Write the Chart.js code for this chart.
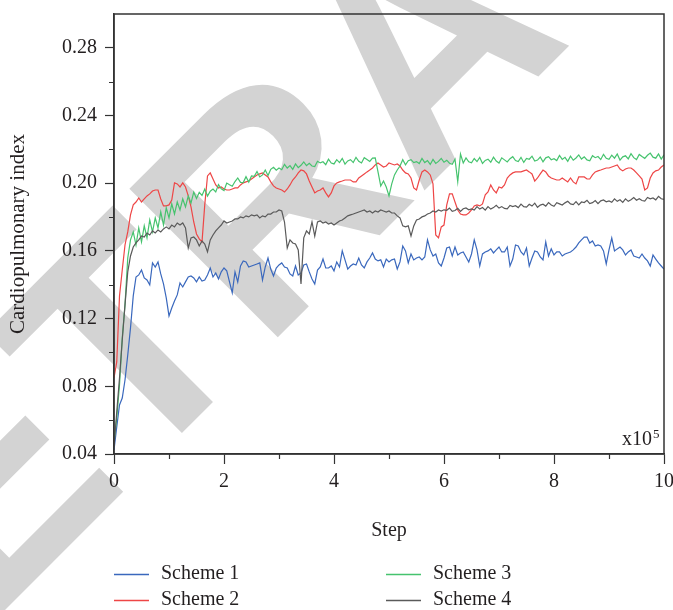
<!DOCTYPE html>
<html>
<head>
<meta charset="utf-8">
<script src="https://cdn.jsdelivr.net/npm/chart.js@4.4.1/dist/chart.umd.min.js"></script>
<style>
  html, body { margin: 0; padding: 0; background: #ffffff; }
  #wrap { width: 673px; height: 610px; }
</style>
</head>
<body>
<div id="wrap"><canvas id="c" width="673" height="610"></canvas></div>
<script>
// Cardiopulmonary index recorded every 0.05 x 10^5 steps (0 .. 10 x 10^5)
const scheme1 = [
  0.0424, 0.0560, 0.0690, 0.0731, 0.0837, 0.0985, 0.1145, 0.1334, 0.1446, 0.1458,
  0.1487, 0.1440, 0.1428, 0.1399, 0.1529, 0.1505, 0.1535, 0.1464, 0.1405, 0.1322,
  0.1216, 0.1263, 0.1304, 0.1340, 0.1411, 0.1387, 0.1417, 0.1446, 0.1452, 0.1440,
  0.1417, 0.1446, 0.1422, 0.1428, 0.1458, 0.1499, 0.1446, 0.1470, 0.1434, 0.1476,
  0.1499, 0.1482, 0.1417, 0.1352, 0.1476, 0.1417, 0.1511, 0.1541, 0.1535, 0.1505,
  0.1511, 0.1517, 0.1523, 0.1529, 0.1428, 0.1505, 0.1558, 0.1493, 0.1452, 0.1499,
  0.1517, 0.1529, 0.1505, 0.1499, 0.1464, 0.1452, 0.1511, 0.1458, 0.1470, 0.1517,
  0.1523, 0.1476, 0.1434, 0.1405, 0.1487, 0.1505, 0.1552, 0.1499, 0.1499, 0.1511,
  0.1482, 0.1535, 0.1505, 0.1600, 0.1547, 0.1493, 0.1511, 0.1523, 0.1517, 0.1558,
  0.1517, 0.1499, 0.1535, 0.1558, 0.1588, 0.1552, 0.1541, 0.1547, 0.1505, 0.1552,
  0.1535, 0.1547, 0.1552, 0.1493, 0.1535, 0.1629, 0.1600, 0.1529, 0.1582, 0.1547,
  0.1558, 0.1564, 0.1547, 0.1564, 0.1665, 0.1606, 0.1570, 0.1582, 0.1529, 0.1511,
  0.1558, 0.1617, 0.1623, 0.1570, 0.1623, 0.1576, 0.1588, 0.1594, 0.1564, 0.1535,
  0.1582, 0.1665, 0.1606, 0.1511, 0.1582, 0.1594, 0.1600, 0.1612, 0.1588, 0.1606,
  0.1623, 0.1594, 0.1594, 0.1623, 0.1511, 0.1552, 0.1635, 0.1629, 0.1594, 0.1576,
  0.1617, 0.1511, 0.1558, 0.1600, 0.1594, 0.1564, 0.1547, 0.1653, 0.1570, 0.1612,
  0.1576, 0.1594, 0.1594, 0.1570, 0.1582, 0.1588, 0.1594, 0.1606, 0.1623, 0.1647,
  0.1665, 0.1682, 0.1682, 0.1647, 0.1659, 0.1629, 0.1635, 0.1629, 0.1600, 0.1523,
  0.1606, 0.1676, 0.1600, 0.1612, 0.1623, 0.1606, 0.1576, 0.1594, 0.1606, 0.1570,
  0.1564, 0.1558, 0.1582, 0.1558, 0.1541, 0.1511, 0.1576, 0.1552, 0.1529, 0.1511,
  0.1493
];

const scheme2 = [
  0.0849, 0.0944, 0.1334, 0.1487, 0.1635, 0.1712, 0.1813, 0.1872, 0.1889, 0.1913,
  0.1889, 0.1907, 0.1925, 0.1937, 0.1954, 0.1960, 0.1960, 0.1907, 0.1866, 0.1866,
  0.1872, 0.1901, 0.2002, 0.1996, 0.1978, 0.2002, 0.1978, 0.1925, 0.1860, 0.1771,
  0.1700, 0.1671, 0.1653, 0.1872, 0.2043, 0.2061, 0.2025, 0.1990, 0.1972, 0.1978,
  0.1966, 0.1960, 0.1960, 0.1966, 0.1972, 0.1972, 0.1990, 0.2002, 0.2008, 0.2013,
  0.2025, 0.2037, 0.2049, 0.2055, 0.2061, 0.2049, 0.2037, 0.2008, 0.1984, 0.1972,
  0.1966, 0.1960, 0.1948, 0.1966, 0.1990, 0.2019, 0.2037, 0.2061, 0.2078, 0.2073,
  0.2055, 0.2013, 0.1978, 0.1943, 0.1954, 0.1960, 0.1972, 0.1943, 0.1919, 0.1943,
  0.1984, 0.2002, 0.2008, 0.2013, 0.2019, 0.2019, 0.2019, 0.2008, 0.2008, 0.2031,
  0.2043, 0.2055, 0.2067, 0.2078, 0.2090, 0.2108, 0.2120, 0.2108, 0.2096, 0.2102,
  0.2120, 0.2114, 0.2108, 0.2114, 0.2102, 0.2078, 0.2061, 0.2055, 0.2031, 0.1972,
  0.1960, 0.2019, 0.2067, 0.2078, 0.2067, 0.2049, 0.1996, 0.1694, 0.1677, 0.1742,
  0.1753, 0.1872, 0.1937, 0.1937, 0.1889, 0.1842, 0.1818, 0.1813, 0.1813, 0.1824,
  0.1842, 0.1866, 0.1872, 0.1866, 0.1878, 0.1931, 0.1948, 0.1990, 0.1960, 0.1943,
  0.1978, 0.1972, 0.1990, 0.2031, 0.2049, 0.2061, 0.2067, 0.2067, 0.2067, 0.2073,
  0.2078, 0.2067, 0.2055, 0.2013, 0.2031, 0.2055, 0.2078, 0.2067, 0.2043, 0.2031,
  0.2025, 0.2019, 0.2019, 0.2031, 0.2019, 0.2008, 0.2031, 0.2008, 0.1996, 0.2037,
  0.2037, 0.2037, 0.2025, 0.2025, 0.2049, 0.2067, 0.2073, 0.2078, 0.2084, 0.2090,
  0.2090, 0.2096, 0.2102, 0.2108, 0.2084, 0.2073, 0.2084, 0.2090, 0.2090, 0.2078,
  0.2061, 0.2043, 0.2025, 0.1960, 0.1972, 0.2031, 0.2061, 0.2073, 0.2078, 0.2096,
  0.2108
];

const scheme3 = [
  0.0471, 0.0613, 0.0808, 0.1086, 0.1281, 0.1558, 0.1665, 0.1712, 0.1635, 0.1736,
  0.1653, 0.1748, 0.1677, 0.1783, 0.1712, 0.1795, 0.1736, 0.1830, 0.1753, 0.1854,
  0.1795, 0.1878, 0.1818, 0.1889, 0.1842, 0.1907, 0.1860, 0.1925, 0.1883, 0.1948,
  0.1910, 0.1946, 0.1928, 0.1965, 0.1924, 0.1953, 0.1966, 0.1949, 0.1992, 0.1967,
  0.1957, 0.2001, 0.1991, 0.1982, 0.2010, 0.2031, 0.2005, 0.2004, 0.2039, 0.2007,
  0.2043, 0.2041, 0.2069, 0.2037, 0.2049, 0.2078, 0.2045, 0.2082, 0.2094, 0.2077,
  0.2090, 0.2080, 0.2112, 0.2090, 0.2104, 0.2082, 0.2114, 0.2092, 0.2106, 0.2126,
  0.2104, 0.2118, 0.2102, 0.2098, 0.2130, 0.2120, 0.2127, 0.2110, 0.2142, 0.2119,
  0.2114, 0.2139, 0.2122, 0.2147, 0.2113, 0.2132, 0.2139, 0.2122, 0.2153, 0.2130,
  0.2120, 0.2151, 0.2140, 0.2129, 0.2148, 0.2150, 0.2067, 0.1984, 0.2013, 0.1978,
  0.1925, 0.1996, 0.2049, 0.2078, 0.2102, 0.2139, 0.2109, 0.2133, 0.2139, 0.2122,
  0.2128, 0.2116, 0.2146, 0.2122, 0.2134, 0.2111, 0.2141, 0.2117, 0.2129, 0.2147,
  0.2124, 0.2136, 0.2118, 0.2112, 0.2142, 0.2008, 0.2173, 0.2120, 0.2150, 0.2127,
  0.2121, 0.2146, 0.2128, 0.2152, 0.2117, 0.2135, 0.2142, 0.2124, 0.2154, 0.2131,
  0.2119, 0.2150, 0.2138, 0.2126, 0.2145, 0.2157, 0.2134, 0.2128, 0.2153, 0.2123,
  0.2147, 0.2142, 0.2160, 0.2131, 0.2137, 0.2155, 0.2126, 0.2150, 0.2157, 0.2139,
  0.2145, 0.2134, 0.2164, 0.2141, 0.2153, 0.2129, 0.2160, 0.2136, 0.2149, 0.2167,
  0.2143, 0.2156, 0.2138, 0.2133, 0.2163, 0.2151, 0.2158, 0.2140, 0.2171, 0.2147,
  0.2141, 0.2166, 0.2148, 0.2173, 0.2137, 0.2156, 0.2162, 0.2144, 0.2175, 0.2151,
  0.2140, 0.2170, 0.2158, 0.2147, 0.2165, 0.2178, 0.2154, 0.2148, 0.2173, 0.2143,
  0.2168
];

const scheme4 = [
  0.0441, 0.0648, 0.0849, 0.1074, 0.1281, 0.1476, 0.1570, 0.1623, 0.1647, 0.1665,
  0.1688, 0.1682, 0.1706, 0.1694, 0.1718, 0.1706, 0.1724, 0.1712, 0.1730, 0.1742,
  0.1730, 0.1753, 0.1742, 0.1765, 0.1753, 0.1765, 0.1736, 0.1617, 0.1677, 0.1682,
  0.1665, 0.1629, 0.1659, 0.1641, 0.1594, 0.1665, 0.1694, 0.1718, 0.1736, 0.1753,
  0.1777, 0.1765, 0.1771, 0.1777, 0.1789, 0.1789, 0.1801, 0.1795, 0.1807, 0.1801,
  0.1813, 0.1807, 0.1813, 0.1795, 0.1807, 0.1801, 0.1818, 0.1818, 0.1830, 0.1830,
  0.1842, 0.1836, 0.1771, 0.1617, 0.1665, 0.1647, 0.1641, 0.1606, 0.1405, 0.1677,
  0.1718, 0.1700, 0.1771, 0.1688, 0.1771, 0.1777, 0.1765, 0.1771, 0.1759, 0.1765,
  0.1753, 0.1765, 0.1777, 0.1783, 0.1795, 0.1807, 0.1813, 0.1818, 0.1824, 0.1830,
  0.1836, 0.1842, 0.1830, 0.1836, 0.1824, 0.1836, 0.1830, 0.1842, 0.1836, 0.1830,
  0.1836, 0.1824, 0.1824, 0.1807, 0.1795, 0.1748, 0.1742, 0.1748, 0.1688, 0.1748,
  0.1783, 0.1789, 0.1801, 0.1807, 0.1818, 0.1824, 0.1836, 0.1830, 0.1842, 0.1836,
  0.1843, 0.1840, 0.1853, 0.1834, 0.1839, 0.1852, 0.1833, 0.1849, 0.1854, 0.1843,
  0.1848, 0.1841, 0.1862, 0.1847, 0.1856, 0.1841, 0.1862, 0.1847, 0.1856, 0.1869,
  0.1853, 0.1862, 0.1851, 0.1848, 0.1869, 0.1862, 0.1867, 0.1856, 0.1877, 0.1862,
  0.1859, 0.1876, 0.1865, 0.1882, 0.1858, 0.1871, 0.1876, 0.1865, 0.1886, 0.1871,
  0.1864, 0.1885, 0.1878, 0.1871, 0.1884, 0.1893, 0.1878, 0.1874, 0.1891, 0.1872,
  0.1889, 0.1886, 0.1899, 0.1880, 0.1885, 0.1898, 0.1879, 0.1896, 0.1901, 0.1890,
  0.1895, 0.1887, 0.1908, 0.1893, 0.1902, 0.1887, 0.1908, 0.1893, 0.1902, 0.1915,
  0.1900, 0.1909, 0.1898, 0.1895, 0.1916, 0.1908, 0.1913, 0.1902, 0.1923, 0.1908,
  0.1905
];

// Step positions in units of 10^5
const steps = scheme1.map((_, i) => Math.round(i * 5) / 100);

const seriesNames = ['Scheme 1', 'Scheme 2', 'Scheme 3', 'Scheme 4'];
const xTicks = [0, 2, 4, 6, 8, 10];
const xMinorTicks = [1, 3, 5, 7, 9];
const yTicks = [0.04, 0.08, 0.12, 0.16, 0.20, 0.24, 0.28];
const yMinorTicks = [0.06, 0.10, 0.14, 0.18, 0.22, 0.26];

const colors = ['#3a68bd', '#ee4646', '#46c36e', '#5a5a5a'];
const axisColor = '#333333';
const textColor = '#231f20';
const serif = '"Liberation Serif", "DejaVu Serif", serif';

const allSeries = [scheme1, scheme2, scheme3, scheme4];

const datasets = allSeries.map((vals, k) => ({
  label: seriesNames[k],
  data: vals.map((v, i) => ({ x: steps[i], y: v })),
  borderColor: colors[k],
  backgroundColor: colors[k],
  borderWidth: 1.2,
  pointRadius: 0,
  tension: 0,
  fill: false,
  order: [4, 3, 2, 1][k]
}));

// Large diagonal watermark behind the plot
const watermark = {
  id: 'watermark',
  beforeDraw(chart) {
    const ctx = chart.ctx;
    ctx.save();
    ctx.fillStyle = '#ffffff';
    ctx.fillRect(0, 0, chart.width, chart.height);
    ctx.translate(-168, 783);
    ctx.rotate(-45 * Math.PI / 180);
    ctx.fillStyle = '#d3d3d3';
    ctx.font = 'bold 305px "Liberation Sans", Arial, sans-serif';
    ctx.textBaseline = 'alphabetic';
    ctx.textAlign = 'left';
    ctx.fillText('RETRACTED', 0, 0);
    ctx.restore();
  }
};

// Frame, minor ticks, exponent note and two-column legend
const decorations = {
  id: 'decorations',
  afterDraw(chart) {
    const ctx = chart.ctx;
    const area = chart.chartArea;
    const xs = chart.scales.x;
    const ys = chart.scales.y;
    ctx.save();
    ctx.strokeStyle = axisColor;
    ctx.lineWidth = 1.5;
    ctx.strokeRect(area.left, area.top, area.right - area.left, area.bottom - area.top);

    ctx.lineWidth = 1.2;
    ctx.beginPath();
    yMinorTicks.forEach(v => {
      const y = Math.round(ys.getPixelForValue(v)) + 0.5;
      ctx.moveTo(area.left - 5, y);
      ctx.lineTo(area.left, y);
    });
    xMinorTicks.forEach(v => {
      const x = Math.round(xs.getPixelForValue(v)) + 0.5;
      ctx.moveTo(x, area.bottom);
      ctx.lineTo(x, area.bottom + 5);
    });
    ctx.stroke();

    ctx.fillStyle = textColor;
    ctx.textBaseline = 'alphabetic';
    ctx.textAlign = 'right';
    ctx.font = '20px ' + serif;
    ctx.fillText('x10', area.right - 12, area.bottom - 9);
    ctx.font = '13px ' + serif;
    ctx.textAlign = 'left';
    ctx.fillText('5', area.right - 11, area.bottom - 16);

    const layout = [
      { k: 0, x: 114, y: 574 },
      { k: 2, x: 386, y: 574 },
      { k: 1, x: 114, y: 600 },
      { k: 3, x: 386, y: 600 }
    ];
    ctx.font = '20px ' + serif;
    ctx.textBaseline = 'middle';
    layout.forEach(item => {
      ctx.strokeStyle = colors[item.k];
      ctx.lineWidth = 1.3;
      ctx.beginPath();
      ctx.moveTo(item.x, item.y + 0.5);
      ctx.lineTo(item.x + 35, item.y + 0.5);
      ctx.stroke();
      ctx.fillStyle = textColor;
      ctx.fillText(chart.data.datasets[item.k].label, item.x + 47, item.y);
    });
    ctx.restore();
  }
};

new Chart(document.getElementById('c'), {
  type: 'line',
  data: { datasets },
  plugins: [watermark, decorations],
  options: {
    responsive: false,
    animation: false,
    devicePixelRatio: 1,
    parsing: true,
    layout: { padding: { top: 14, right: 9, left: 0, bottom: 0 } },
    plugins: { legend: { display: false }, tooltip: { enabled: false } },
    scales: {
      x: {
        type: 'linear',
        min: 0,
        max: 10,
        afterBuildTicks: s => { s.ticks = xTicks.map(v => ({ value: v })); },
        afterFit: s => { s.height = 156; s.paddingLeft = 0; s.paddingRight = 0; },
        ticks: {
          callback: v => String(v),
          color: textColor,
          font: { family: serif, size: 20 },
          padding: 6,
          maxRotation: 0,
          autoSkip: false
        },
        grid: { drawOnChartArea: false, drawTicks: true, tickLength: 10, tickColor: axisColor, tickWidth: 1.2 },
        border: { display: true, color: axisColor, width: 1.5 },
        title: {
          display: true,
          text: 'Step',
          color: textColor,
          font: { family: serif, size: 20 },
          padding: { top: 0, bottom: 67 }
        }
      },
      y: {
        type: 'linear',
        min: 0.04,
        max: 0.30,
        afterBuildTicks: s => { s.ticks = yTicks.map(v => ({ value: v })); },
        afterFit: s => { s.width = 114; s.paddingTop = 0; s.paddingBottom = 0; },
        ticks: {
          callback: v => v.toFixed(2),
          color: textColor,
          font: { family: serif, size: 20 },
          padding: 8,
          autoSkip: false
        },
        grid: { drawOnChartArea: false, drawTicks: true, tickLength: 9, tickColor: axisColor, tickWidth: 1.2 },
        border: { display: true, color: axisColor, width: 1.5 },
        title: {
          display: true,
          text: 'Cardiopulmonary index',
          color: textColor,
          font: { family: serif, size: 21 },
          padding: { top: 6, bottom: 0 }
        }
      }
    }
  }
});
</script>
</body>
</html>
